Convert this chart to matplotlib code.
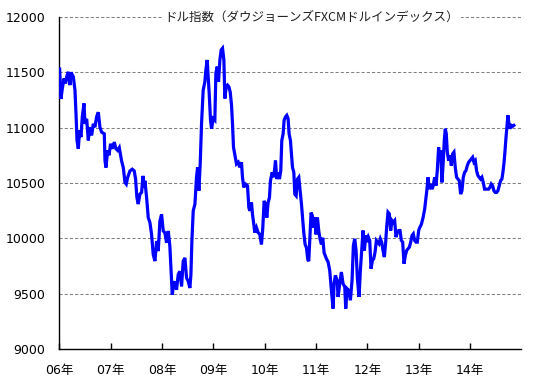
import matplotlib
matplotlib.use('Agg')
from matplotlib import pyplot as plt
import numpy as np

plt.rcParams['font.family'] = ['DejaVu Sans', 'Noto Sans CJK JP']

# 2006年初からの経過年数と指数値
t = [0.007, 0.033, 0.059, 0.092, 0.124, 0.144, 0.175, 0.208, 0.227, 0.273,
     0.305, 0.325, 0.345, 0.370, 0.396, 0.422, 0.448, 0.481, 0.500, 0.533,
     0.565, 0.591, 0.630, 0.662, 0.694, 0.727, 0.760, 0.791, 0.824, 0.876,
     0.890, 0.909, 0.941, 0.967, 0.999, 1.032, 1.071, 1.103, 1.136, 1.168,
     1.194, 1.213, 1.246, 1.279, 1.304, 1.331, 1.376, 1.421, 1.459, 1.486,
     1.511, 1.537, 1.570, 1.603, 1.629, 1.655,
     1.667, 1.700, 1.732, 1.765, 1.797, 1.829, 1.862, 1.895, 1.927, 1.959,
     1.992, 2.024, 2.056, 2.089, 2.122, 2.153, 2.174, 2.200, 2.225, 2.251,
     2.283, 2.316, 2.348, 2.381, 2.413, 2.446, 2.478, 2.511, 2.543, 2.563,
     2.582, 2.608, 2.641, 2.672, 2.693, 2.718, 2.744, 2.770, 2.802, 2.835,
     2.854, 2.880, 2.899, 2.919, 2.945, 2.965, 2.997, 3.029, 3.049, 3.075,
     3.101, 3.127, 3.153, 3.179, 3.205, 3.224, 3.250, 3.276, 3.302, 3.328,
     3.354, 3.373, 3.392,
     3.451, 3.484, 3.515, 3.548, 3.567, 3.593, 3.626, 3.665, 3.691, 3.710,
     3.743, 3.762, 3.788, 3.807, 3.840, 3.873, 3.904, 3.937, 3.963, 3.989,
     4.015, 4.041, 4.067, 4.093, 4.112, 4.145, 4.177, 4.210, 4.235, 4.261,
     4.287, 4.313, 4.333, 4.359, 4.378, 4.404, 4.430, 4.456, 4.475, 4.501,
     4.521, 4.541, 4.567, 4.586, 4.612, 4.638, 4.664, 4.690, 4.716, 4.742,
     4.761, 4.787, 4.813, 4.839, 4.858, 4.884, 4.903, 4.930, 4.955, 4.975,
     5.001, 5.027, 5.053, 5.079, 5.105, 5.131, 5.157,
     5.202, 5.235, 5.266, 5.299, 5.332, 5.351, 5.377, 5.410, 5.429, 5.461,
     5.493, 5.526, 5.559, 5.578, 5.604, 5.636, 5.669, 5.701, 5.727, 5.753,
     5.779, 5.805, 5.837, 5.863, 5.889, 5.915, 5.941, 5.967, 5.993, 6.019,
     6.045, 6.071, 6.097, 6.123, 6.149, 6.175, 6.201, 6.226, 6.252, 6.278,
     6.304, 6.330, 6.356, 6.375, 6.401, 6.427, 6.453, 6.479, 6.505, 6.531,
     6.557, 6.583, 6.609, 6.635, 6.661, 6.687, 6.713, 6.739, 6.765, 6.791,
     6.817, 6.843, 6.869, 6.894, 6.920, 6.946, 6.972, 6.998, 7.018, 7.051,
     7.084,
     7.115, 7.134, 7.160, 7.180, 7.206, 7.232, 7.257, 7.283, 7.309, 7.335,
     7.361, 7.387, 7.407, 7.426, 7.452, 7.478, 7.497, 7.517, 7.536, 7.556,
     7.582, 7.608, 7.634, 7.660, 7.685, 7.711, 7.737, 7.763, 7.789, 7.815,
     7.841, 7.867, 7.893, 7.919, 7.945, 7.971, 7.997, 8.023, 8.049, 8.075,
     8.101, 8.126, 8.152, 8.178, 8.204, 8.230, 8.256, 8.282, 8.308, 8.334,
     8.360, 8.386, 8.412, 8.438, 8.464, 8.490, 8.516, 8.541, 8.567, 8.593,
     8.619, 8.639, 8.658, 8.678, 8.697, 8.717, 8.736, 8.756, 8.775, 8.801,
     8.827, 8.853]

idx = [11530, 11260, 11355, 11445, 11400, 11460, 11505, 11385, 11500, 11460,
       11340, 11130, 10885, 10810, 10975, 10915, 11100, 11220, 11035, 11080,
       10885, 11005, 10930, 11035, 11005, 11100, 11140, 11005, 10960, 10945,
       10700, 10640, 10795, 10750, 10855, 10810, 10870, 10810, 10795, 10820,
       10750, 10700, 10640, 10505, 10490, 10550, 10610, 10625, 10610, 10535,
       10370, 10310, 10400, 10415, 10565, 10460,
       10521, 10370, 10188, 10143, 10037, 9855, 9795, 9976, 9885, 10157,
       10218, 10067, 10052, 9960, 10067, 9930, 9733, 9491, 9582, 9612,
       9536, 9673, 9703, 9567, 9794, 9824, 9643, 9612, 9552, 9673,
       9976, 10249, 10309, 10552, 10642, 10430, 10673, 11036, 11339, 11415,
       11521, 11612, 11461, 11309, 11067, 10991, 11082, 11067, 11491, 11552,
       11415, 11612, 11703, 11718, 11612, 11264, 11370, 11385, 11370, 11324,
       11203, 11036, 10824,
       10673, 10688, 10642, 10688, 10552, 10461, 10491, 10476, 10279, 10249,
       10324, 10218, 10127, 10052, 10097, 10052, 10036, 9946, 10097, 10339,
       10309, 10188, 10324, 10370, 10521, 10597, 10552, 10703, 10536, 10597,
       10536, 10612, 10885, 10945, 11067, 11097, 11112, 11082, 10945, 10885,
       10764, 10642, 10597, 10400, 10385, 10536, 10552, 10430, 10309, 10158,
       10052, 9946, 9915, 9809, 9794, 10036, 10233, 10203, 10097, 10188,
       10036, 10188, 10067, 9991, 9946, 10006, 9870,
       9816, 9786, 9711, 9531, 9366, 9591, 9666, 9621, 9471, 9591,
       9696, 9591, 9561, 9366, 9546, 9531, 9441, 9621, 9936, 9996,
       9891, 9636, 9471, 9711, 9891, 10071, 9891, 10026, 9966, 10011,
       9981, 9726, 9801, 9816, 9876, 9981, 9966, 9951, 9996, 9966,
       9891, 9831, 9966, 10101, 10236, 10221, 10071, 10161, 10146, 10161,
       10011, 10056, 10071, 10071, 9981, 9966, 9771, 9846, 9891, 9906,
       9921, 9966, 10026, 10041, 9981, 9966, 9966, 10071, 10097, 10127,
       10188,
       10264, 10339, 10445, 10552, 10445, 10491, 10445, 10476, 10552, 10476,
       10612, 10824, 10703, 10794, 10506, 10703, 10885, 10991, 10945, 10779,
       10703, 10749, 10658, 10764, 10779, 10642, 10552, 10536, 10521, 10400,
       10430, 10552, 10597, 10612, 10658, 10688, 10703, 10718, 10733, 10688,
       10703, 10612, 10567, 10552, 10536, 10552, 10506, 10445, 10445, 10445,
       10445, 10461, 10491, 10476, 10430, 10415, 10415, 10430, 10476, 10521,
       10536, 10597, 10673, 10779, 10900, 11006, 11112, 11036, 10991, 11021,
       11012, 11021]

years = [2006, 2007, 2008, 2009, 2010, 2011, 2012, 2013, 2014]
year_labels = ['06年', '07年', '08年', '09年', '10年', '11年', '12年', '13年', '14年']
y_ticks = [9000, 9500, 10000, 10500, 11000, 11500, 12000]
title = 'ドル指数（ダウジョーンズFXCMドルインデックス）'

x = 2006 + np.array(t)

fig = plt.figure(figsize=(5.45, 3.87), dpi=100)
ax = fig.add_axes([0.1088, 0.098, 0.848, 0.858])

for v in y_ticks[1:]:
    ax.axhline(v, color='#808080', lw=0.75, ls=(0, (3, 2)), zorder=1, clip_on=False)

ax.plot(x, idx, color='#0000ff', lw=2.3, solid_joinstyle='miter', zorder=3)

ax.set_xlim(2006, 2015)
ax.set_ylim(9000, 12000)
ax.set_xticks(years)
ax.set_xticklabels(year_labels)
ax.set_yticks(y_ticks)
ax.set_yticklabels([str(v) for v in y_ticks])

ax.spines['top'].set_visible(False)
ax.spines['right'].set_visible(False)
ax.spines['left'].set_linewidth(1.0)
ax.spines['bottom'].set_linewidth(1.0)
ax.tick_params(axis='x', direction='in', length=4, width=1, pad=11, labelsize=9)
ax.tick_params(axis='y', length=0, pad=10, labelsize=9)

ax.text(0.546, 1.0, title, transform=ax.transAxes, ha='center', va='center',
        fontsize=9, color='#202020', zorder=5, family=['Noto Sans CJK JP'],
        bbox=dict(facecolor='white', edgecolor='none', pad=1.5))

fig.savefig('out.png', dpi=100)
